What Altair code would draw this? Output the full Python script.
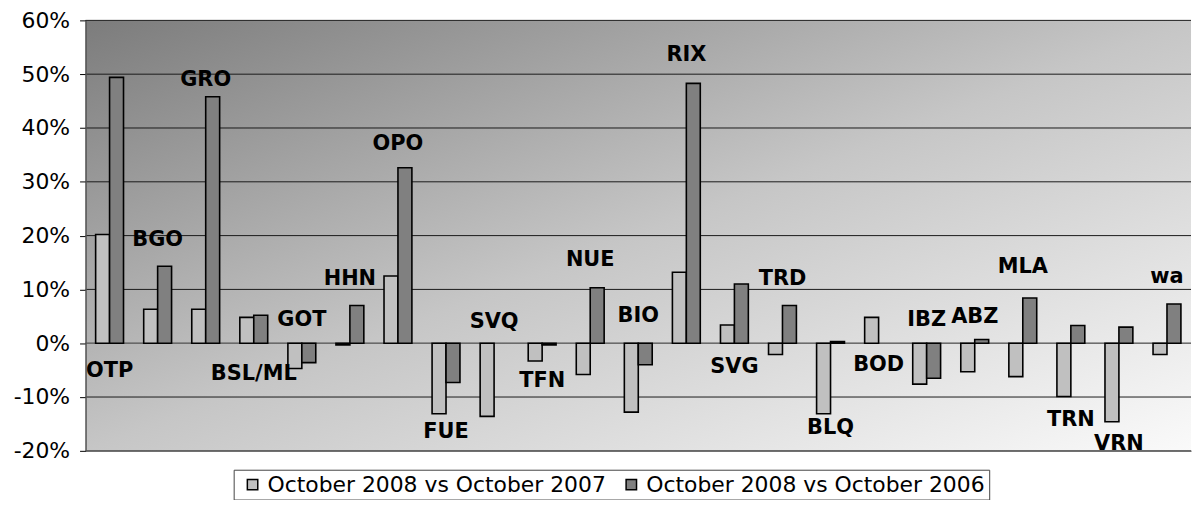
import altair as alt
import pandas as pd

categories = ["OTP", "BGO", "GRO", "BSL/ML", "GOT", "HHN", "OPO", "FUE", "SVQ", "TFN", "NUE", "BIO",
              "RIX", "SVG", "TRD", "BLQ", "BOD", "IBZ", "ABZ", "MLA", "TRN", "VRN", "wa"]
vs2007 = [20.2, 6.3, 6.3, 4.8, -4.7, -0.3, 12.5, -13.1, -13.6, -3.3, -5.8, -12.8,
          13.2, 3.4, -2.1, -13.1, 4.8, -7.6, -5.3, -6.2, -9.9, -14.6, -2.1]
vs2006 = [49.4, 14.3, 45.8, 5.2, -3.6, 7.0, 32.6, -7.3, None, -0.3, 10.3, -4.0,
          48.3, 11.0, 7.0, 0.3, None, -6.5, 0.7, 8.4, 3.3, 3.0, 7.3]
label_y = [-5.1, 19.2, 48.9, -5.7, 4.4, 11.9, 37.0, -16.5, 4.0, -7.0, 15.4, 5.1,
           53.6, -4.4, 12.0, -15.7, -4.1, 4.4, 4.8, 14.2, -14.3, -18.7, 12.3]
series = ["October 2008 vs October 2007", "October 2008 vs October 2006"]
y_ticks = [-20, -10, 0, 10, 20, 30, 40, 50, 60]

W, H = 1112, 433

rows = []
for c, a, b in zip(categories, vs2007, vs2006):
    if a is not None:
        rows.append({"cat": c, "series": series[0], "value": a / 100})
    if b is not None:
        rows.append({"cat": c, "series": series[1], "value": b / 100})
bars_df = pd.DataFrame(rows)
labels_df = pd.DataFrame({"cat": categories, "ly": [v / 100 for v in label_y]})
grid_df = pd.DataFrame({"g": [v / 100 for v in y_ticks]})
zero_df = pd.DataFrame({"g": [0.0]})
bg_df = pd.DataFrame({"a": [0]})

yscale = alt.Scale(domain=[-0.2, 0.6], nice=False, zero=False)
xscale = alt.Scale(domain=categories, paddingInner=0.42, paddingOuter=0.21)

bg = alt.Chart(bg_df).mark_rect(
    fill=alt.LinearGradient(
        gradient="linear",
        stops=[alt.GradientStop(offset=0, color="#7c7c7c"),
               alt.GradientStop(offset=0.5, color="#c6c6c6"),
               alt.GradientStop(offset=1, color="#fafafa")],
        x1=0, y1=0, x2=1, y2=1,
    )
).encode(x=alt.value(0), x2=alt.value(W), y=alt.value(0), y2=alt.value(H))

grid = alt.Chart(grid_df).mark_rule(color="#1a1a1a", strokeWidth=1).encode(
    y=alt.Y("g:Q", scale=yscale,
            axis=alt.Axis(values=[v / 100 for v in y_ticks],
                          labelExpr="round(datum.value * 100) + '%'", title=None,
                          grid=False, labelFont="DejaVu Sans", labelFontSize=22,
                          labelColor="black", labelPadding=10, tickSize=6,
                          tickColor="black", domainColor="#555555", domainWidth=1.5,
                          zindex=1))
)

zero = alt.Chart(zero_df).mark_rule(color="#777777", strokeWidth=1).encode(
    y=alt.Y("g:Q", scale=yscale)
)

bars = alt.Chart(bars_df).mark_bar(stroke="black", strokeWidth=1.6).encode(
    x=alt.X("cat:N", scale=xscale, sort=categories,
            axis=alt.Axis(labels=False, ticks=False, title=None, grid=False,
                          domainColor="#707070", domainWidth=1.5, zindex=1)),
    xOffset=alt.XOffset("series:N", sort=series, scale=alt.Scale(domain=series)),
    y=alt.Y("value:Q", scale=yscale),
    fill=alt.Fill("series:N", sort=series,
                  scale=alt.Scale(domain=series, range=["#c0c0c0", "#808080"]),
                  legend=alt.Legend(title=None, orient="none", legendX=149, legendY=452,
                                    direction="horizontal", symbolType="square",
                                    symbolSize=110, symbolStrokeColor="black",
                                    symbolStrokeWidth=1.5, labelFont="DejaVu Sans",
                                    labelFontSize=22, labelColor="black",
                                    labelLimit=600, strokeColor="#444444",
                                    padding=4, columnPadding=10, symbolOffset=4)),
)

labels = alt.Chart(labels_df).mark_text(
    font="DejaVu Sans", fontSize=21, fontWeight="bold", color="black",
    align="center", baseline="middle"
).encode(
    x=alt.X("cat:N", scale=xscale, sort=categories),
    y=alt.Y("ly:Q", scale=yscale),
    text="cat:N",
)

chart = alt.layer(bg, grid, zero, bars, labels).properties(
    width=W, height=H,
    autosize=alt.AutoSizeParams(type="none"),
    padding={"left": 78, "top": 11, "right": 2, "bottom": 48},
).configure_view(stroke=None)

chart.save("out.html", embed_options={"renderer": "svg", "actions": False})
